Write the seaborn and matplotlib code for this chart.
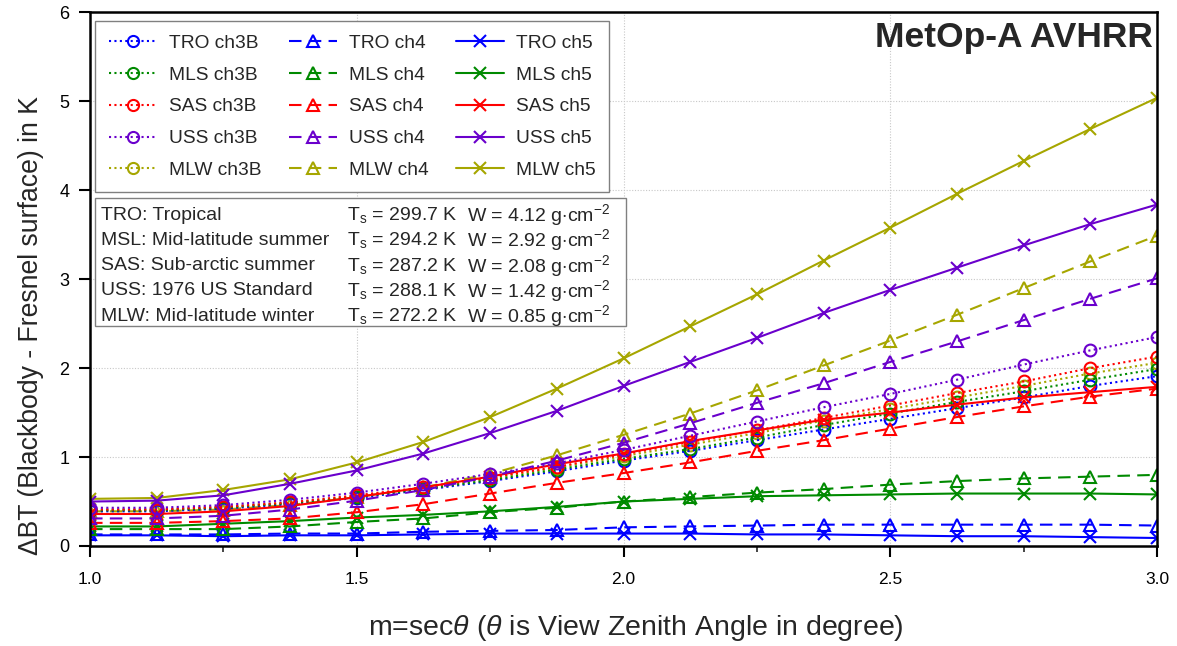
import numpy as np
import pandas as pd
import matplotlib
matplotlib.use("Agg")
import matplotlib.pyplot as plt
from matplotlib.patches import Rectangle
from matplotlib.lines import Line2D
import seaborn as sns

# Air mass m = sec(theta)
m = [1.0, 1.125, 1.25, 1.375, 1.5, 1.625, 1.75, 1.875, 2.0,
     2.125, 2.25, 2.375, 2.5, 2.625, 2.75, 2.875, 3.0]

profiles = ["TRO", "MLS", "SAS", "USS", "MLW"]
channels = ["ch3B", "ch4", "ch5"]

# Brightness-temperature difference (K), channel 3B
tro_ch3b = [0.39, 0.39, 0.42, 0.47, 0.54, 0.63, 0.73, 0.84, 0.96, 1.07, 1.19, 1.31, 1.43, 1.55, 1.67, 1.80, 1.91]
mls_ch3b = [0.40, 0.40, 0.43, 0.48, 0.55, 0.64, 0.74, 0.86, 0.98, 1.09, 1.22, 1.36, 1.49, 1.62, 1.74, 1.87, 1.99]
sas_ch3b = [0.41, 0.41, 0.44, 0.49, 0.57, 0.66, 0.77, 0.89, 1.03, 1.17, 1.30, 1.44, 1.58, 1.72, 1.85, 2.00, 2.13]
uss_ch3b = [0.43, 0.43, 0.46, 0.52, 0.60, 0.70, 0.81, 0.93, 1.08, 1.24, 1.40, 1.56, 1.71, 1.87, 2.04, 2.20, 2.35]
mlw_ch3b = [0.41, 0.41, 0.44, 0.49, 0.56, 0.65, 0.76, 0.88, 1.01, 1.14, 1.27, 1.41, 1.54, 1.67, 1.80, 1.94, 2.06]

# Channel 4
tro_ch4 = [0.13, 0.13, 0.13, 0.14, 0.14, 0.16, 0.17, 0.18, 0.21, 0.22, 0.23, 0.24, 0.24, 0.24, 0.24, 0.24, 0.23]
mls_ch4 = [0.19, 0.19, 0.19, 0.22, 0.27, 0.31, 0.38, 0.43, 0.50, 0.55, 0.60, 0.64, 0.69, 0.73, 0.76, 0.78, 0.80]
sas_ch4 = [0.26, 0.26, 0.28, 0.31, 0.38, 0.47, 0.59, 0.71, 0.82, 0.94, 1.07, 1.19, 1.32, 1.45, 1.57, 1.68, 1.77]
uss_ch4 = [0.31, 0.31, 0.34, 0.41, 0.51, 0.63, 0.78, 0.96, 1.16, 1.38, 1.61, 1.83, 2.07, 2.30, 2.54, 2.78, 3.01]
mlw_ch4 = [0.39, 0.39, 0.41, 0.46, 0.55, 0.66, 0.81, 1.02, 1.25, 1.49, 1.75, 2.03, 2.31, 2.60, 2.90, 3.20, 3.49]

# Channel 5
tro_ch5 = [0.12, 0.12, 0.11, 0.12, 0.12, 0.13, 0.14, 0.14, 0.14, 0.14, 0.13, 0.13, 0.12, 0.11, 0.11, 0.10, 0.09]
mls_ch5 = [0.22, 0.22, 0.25, 0.28, 0.32, 0.35, 0.39, 0.44, 0.50, 0.53, 0.56, 0.57, 0.58, 0.59, 0.59, 0.59, 0.58]
sas_ch5 = [0.36, 0.36, 0.39, 0.45, 0.55, 0.66, 0.78, 0.92, 1.04, 1.18, 1.30, 1.42, 1.50, 1.59, 1.67, 1.73, 1.79]
uss_ch5 = [0.50, 0.51, 0.57, 0.70, 0.85, 1.04, 1.27, 1.52, 1.80, 2.07, 2.34, 2.62, 2.88, 3.13, 3.38, 3.62, 3.84]
mlw_ch5 = [0.53, 0.54, 0.63, 0.75, 0.94, 1.17, 1.45, 1.77, 2.11, 2.47, 2.83, 3.21, 3.58, 3.96, 4.33, 4.69, 5.04]

series = {
    ("TRO", "ch3B"): tro_ch3b, ("MLS", "ch3B"): mls_ch3b, ("SAS", "ch3B"): sas_ch3b,
    ("USS", "ch3B"): uss_ch3b, ("MLW", "ch3B"): mlw_ch3b,
    ("TRO", "ch4"): tro_ch4, ("MLS", "ch4"): mls_ch4, ("SAS", "ch4"): sas_ch4,
    ("USS", "ch4"): uss_ch4, ("MLW", "ch4"): mlw_ch4,
    ("TRO", "ch5"): tro_ch5, ("MLS", "ch5"): mls_ch5, ("SAS", "ch5"): sas_ch5,
    ("USS", "ch5"): uss_ch5, ("MLW", "ch5"): mlw_ch5,
}

atmos_names = ["TRO: Tropical", "MSL: Mid-latitude summer", "SAS: Sub-arctic summer",
               "USS: 1976 US Standard", "MLW: Mid-latitude winter"]
surface_temp = ["299.7", "294.2", "287.2", "288.1", "272.2"]
water_vapour = ["4.12", "2.92", "2.08", "1.42", "0.85"]

x_ticks = [1.0, 1.5, 2.0, 2.5, 3.0]
y_ticks = [0, 1, 2, 3, 4, 5, 6]

colors = {"TRO": "#0000FF", "MLS": "#008A00", "SAS": "#FF0000",
          "USS": "#6A00CC", "MLW": "#A6A600"}
markers = {"ch3B": "o", "ch4": "^", "ch5": "x"}
dash_styles = {"ch3B": (0, (1.0, 1.6)), "ch4": (0, (6.0, 3.5)), "ch5": "-"}
z_profile = {"MLW": 2.0, "TRO": 2.1, "MLS": 2.2, "SAS": 2.3, "USS": 2.4}

sns.set_theme(style="white")
plt.rcParams.update({
    "font.family": ["Liberation Sans", "DejaVu Sans"],
    "mathtext.fontset": "custom",
    "mathtext.rm": "Liberation Sans",
    "mathtext.it": "Liberation Sans:italic",
    "mathtext.bf": "Liberation Sans:bold",
    "axes.edgecolor": "black",
})

df = pd.DataFrame([
    {"m": xv, "dBT": yv, "profile": p, "channel": c}
    for (p, c), vals in series.items() for xv, yv in zip(m, vals)
])

fig = plt.figure(figsize=(11.77, 6.46), dpi=100)
ax = fig.add_axes([0.0765, 0.1548, 0.9065, 0.8259])

handles = []
labels = []
for c in channels:
    for p in profiles:
        sub = df[(df.profile == p) & (df.channel == c)]
        sns.lineplot(data=sub, x="m", y="dBT", ax=ax, color=colors[p],
                     linestyle=dash_styles[c], linewidth=1.5,
                     marker=markers[c], markersize=8.5 if c != "ch5" else 9,
                     markerfacecolor="none", markeredgecolor=colors[p],
                     markeredgewidth=1.5, zorder=z_profile[p], legend=False)
        handles.append(Line2D([], [], color=colors[p], linestyle=dash_styles[c],
                              linewidth=1.5, marker=markers[c], markersize=8,
                              markerfacecolor="none", markeredgewidth=1.5))
        labels.append(f"{p} {c}")

ax.set_xlim(1.0, 3.0)
ax.set_ylim(0, 6)
ax.set_xticks(x_ticks)
ax.set_xticklabels([f"{v:.1f}" for v in x_ticks])
ax.set_xticks([1.25, 1.75, 2.25, 2.75], minor=True)
ax.set_yticks(y_ticks)
ax.grid(True, which="major", color="#c8c8c8", linestyle=(0, (1, 1.5)), linewidth=0.8)
ax.set_axisbelow(True)

for s in ax.spines.values():
    s.set_linewidth(1.8)
    s.set_color("black")

ax.tick_params(axis="both", which="major", direction="out", length=8, width=1.5,
               colors="black", bottom=True, left=True)
ax.tick_params(axis="x", which="minor", direction="out", length=4, width=1.2, bottom=True)
ax.tick_params(axis="x", which="major", pad=11, labelsize=12.5)
ax.tick_params(axis="y", which="major", pad=7, labelsize=13)

ax.set_xlabel(r"m=sec$\it{\theta}$ ($\it{\theta}$ is View Zenith Angle in degree)",
              fontsize=20.5)
ax.xaxis.set_label_coords(0.512, -0.125)
ax.set_ylabel("\u0394BT (Blackbody - Fresnel surface) in K", fontsize=19.2)
ax.yaxis.set_label_coords(-0.043, 0.414)

leg = ax.legend(handles, labels, ncol=3, loc="upper left",
                bbox_to_anchor=(0.005, 0.984),
                borderaxespad=0, frameon=True, fancybox=False, fontsize=13.8,
                handlelength=2.5, handletextpad=0.62, labelspacing=0.75,
                columnspacing=1.45, borderpad=0.7)
leg.get_frame().set_edgecolor("#808080")
leg.get_frame().set_linewidth(1.0)
leg.get_frame().set_facecolor("white")
leg.get_frame().set_alpha(1.0)
leg.set_zorder(5)

# Description box for the atmospheric profiles
box = Rectangle((0.005, 0.412), 0.497, 0.240, transform=ax.transAxes,
                facecolor="white", edgecolor="#808080", linewidth=1.0, zorder=5)
ax.add_patch(box)
row_y = [0.620, 0.573, 0.525, 0.478, 0.431]
for yy, name, ts, w in zip(row_y, atmos_names, surface_temp, water_vapour):
    ax.text(0.010, yy, name, transform=ax.transAxes, fontsize=14,
            va="center", ha="left", zorder=6)
    ax.text(0.241, yy, r"T$_\mathrm{s}$ = " + ts + " K", transform=ax.transAxes,
            fontsize=14, va="center", ha="left", zorder=6)
    ax.text(0.353, yy, "W = " + w + r" g$\cdot$cm$^\mathrm{-2}$", transform=ax.transAxes,
            fontsize=14, va="center", ha="left", zorder=6)

ax.text(0.996, 0.984, "MetOp-A AVHRR", transform=ax.transAxes, fontsize=25.5,
        fontweight="bold", ha="right", va="top", zorder=6)

fig.savefig("out.png", dpi=100)
